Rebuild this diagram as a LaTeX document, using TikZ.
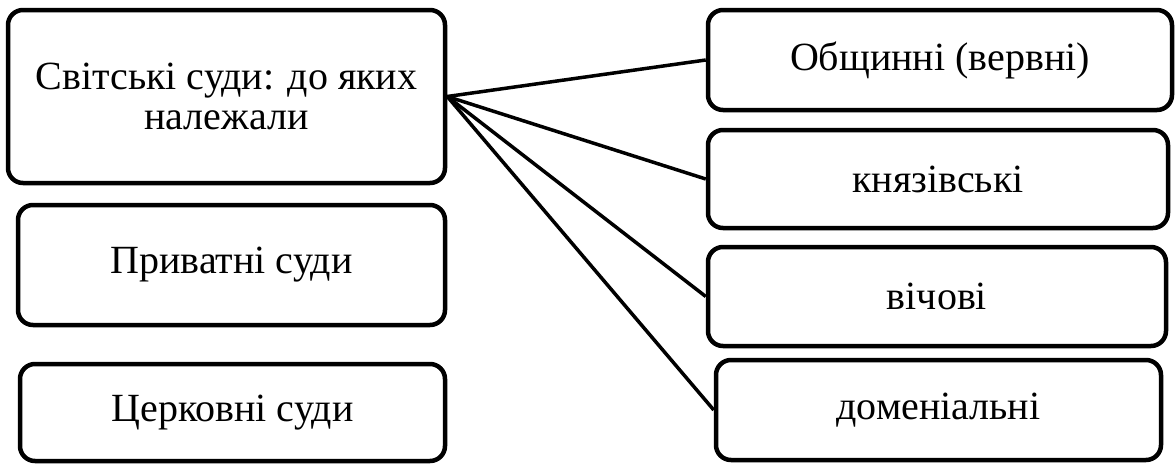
\documentclass[tikz,border=0pt]{standalone}
\usepackage{fontspec}
\setmainfont{Liberation Serif}
\tikzset{
  courtbox/.style={draw, line width=4.5pt, rounded corners=15pt, align=center,
    inner sep=0pt, font=\fontsize{40}{40}\selectfont},
  link/.style={line width=3.5pt}
}
\begin{document}
\begin{tikzpicture}[x=1pt, y=-1pt]
    \useasboundingbox (0,0) rectangle (1176,464);

    % ліва колонка
    \node[courtbox, minimum width=437pt, minimum height=173pt] (svit) at (226.5,96.5) {Світські суди: до яких\\належали};
    \node[courtbox, minimum width=427pt, minimum height=120pt] (pryv) at (231.5,265) {Приватні суди};
    \node[courtbox, minimum width=425pt, minimum height=97pt] (tserk) at (232.5,412.5) {Церковні суди};

    % права колонка
    \node[courtbox, minimum width=464pt, minimum height=100pt] (obsh) at (940,60) {Общинні (вервні)};
    \node[courtbox, minimum width=460pt, minimum height=98pt] (knyaz) at (938,179) {князівські};
    \node[courtbox, minimum width=458pt, minimum height=99pt] (vich) at (937,296.5) {вічові};
    \node[courtbox, minimum width=445pt, minimum height=100pt] (domen) at (938.5,410) {доменіальні};

    % з'єднання
    \draw[link] (svit.east) -- (obsh.west);
    \draw[link] (svit.east) -- (knyaz.west);
    \draw[link] (svit.east) -- (vich.west);
    \draw[link] (svit.east) -- (domen.west);
\end{tikzpicture}
\end{document}
